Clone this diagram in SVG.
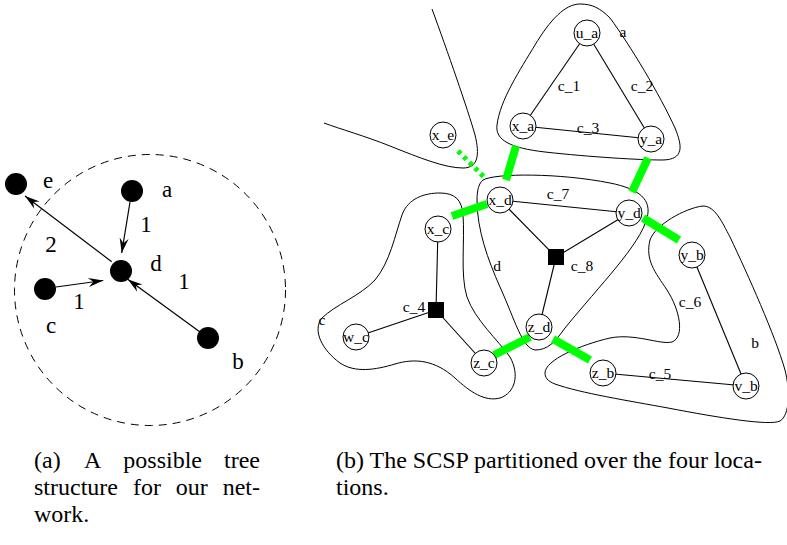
<svg xmlns="http://www.w3.org/2000/svg" width="787" height="545" viewBox="0 0 787 545">
<style>
.t{font-family:"Liberation Serif","Times New Roman",serif;fill:#000}
.big{font-size:23px}
.sm{font-size:15.5px;text-anchor:middle}
.cap{font-size:24px}
.dot{fill:#000}
.arr{stroke:#000;stroke-width:1.2;fill:none;marker-end:url(#ah)}
.reg{fill:none;stroke:#000;stroke-width:1}
.edge{stroke:#000;stroke-width:1.1;fill:none}
.gr{stroke:#00ff00;stroke-width:8;fill:none}
.grd{stroke:#00ff00;stroke-width:5;fill:none;stroke-dasharray:4 4}
.nd{fill:#fff;stroke:#000;stroke-width:1}
.sq{fill:#000}
</style>
<defs>
<marker id="ah" markerUnits="userSpaceOnUse" markerWidth="18" markerHeight="12" viewBox="-16 -6 18 12" refX="0" refY="0" orient="auto">
<path d="M0,0 L-15,-4.5 L-10,0 L-15,4.5 Z" fill="#000"/>
</marker>
</defs>
<rect width="787" height="545" fill="#fff"/>

<!-- Panel (a) -->
<g id="panel-a">
<circle cx="150" cy="290" r="135.5" fill="none" stroke="#000" stroke-width="1" stroke-dasharray="8 6"/>
<g id="a-connectors">
<line class="arr" x1="130" y1="202" x2="121.7" y2="253"/>
<line class="arr" x1="56" y1="287" x2="103.3" y2="280.5"/>
<line class="arr" x1="200" y1="332" x2="127.7" y2="279.3"/>
<line class="arr" x1="111.7" y1="261.7" x2="25" y2="196"/>
</g>
<g id="na-e"><circle class="dot" cx="16" cy="184" r="11"/><text class="t big" x="48" y="188" text-anchor="middle">e</text></g>
<g id="na-a"><circle class="dot" cx="132" cy="191" r="11"/><text class="t big" x="167" y="197" text-anchor="middle">a</text></g>
<g id="na-d"><circle class="dot" cx="121" cy="271" r="11"/><text class="t big" x="156" y="271" text-anchor="middle">d</text></g>
<g id="na-c"><circle class="dot" cx="45" cy="289" r="11"/><text class="t big" x="51" y="333" text-anchor="middle">c</text></g>
<g id="na-b"><circle class="dot" cx="208" cy="338" r="11"/><text class="t big" x="238" y="369" text-anchor="middle">b</text></g>
<g id="a-labels">
<text class="t big" x="146" y="232" text-anchor="middle">1</text>
<text class="t big" x="51" y="252" text-anchor="middle">2</text>
<text class="t big" x="184" y="289" text-anchor="middle">1</text>
<text class="t big" x="79" y="309" text-anchor="middle">1</text>
</g>
</g>

<!-- Panel (b) -->
<g id="regions">
<path id="reg-e" class="reg" d="M432,9 C447,50 468,110 475,135 C480,155 478,168 463,168 C445,168 420,158 390,146 C365,136 340,129 324,123"/>
<path id="reg-a" class="reg" d="M580,4 C565,4 550,20 535,45 C520,70 500,100 497,125 C495,140 510,148 545,152 C590,157 640,160 662,160 C685,160 682,145 675,128 C660,95 630,45 610,18 C600,8 592,4 580,4 Z"/>
<path id="reg-d" class="reg" d="M483,180 C495,173 560,173 610,183 C640,189 652,200 647,218 C640,245 600,285 565,328 C555,342 548,350 535,350 C522,348 515,320 500,287 C488,260 477,230 477,200 C477,190 479,183 483,180 Z"/>
<path id="reg-c" class="reg" d="M440,193 C425,193 408,198 402,215 C395,235 390,262 375,280 C360,296 335,305 322,318 C312,330 322,350 340,363 C355,373 375,370 395,364 C415,358 435,360 455,378 C470,392 485,402 500,398 C515,393 520,375 510,357 C498,340 475,320 467,297 C460,275 465,240 463,215 C462,200 455,193 440,193 Z"/>
<path id="reg-b" class="reg" d="M545,373 C545,360 580,345 610,338 C635,333 660,345 672,342 C685,337 680,310 667,290 C655,272 645,260 650,240 C655,225 685,208 703,206 C715,206 722,222 730,237 C748,275 775,335 785,370 C790,390 790,415 780,421 C770,426 720,418 668,408 C630,401 580,393 555,384 C547,381 545,377 545,373 Z"/>
<text class="t sm" x="623" y="37">a</text>
<text class="t sm" x="755" y="348">b</text>
<text class="t sm" x="322" y="325">c</text>
<text class="t sm" x="497" y="271">d</text>
</g>

<g id="connectors">
<line class="edge" x1="587" y1="33" x2="523" y2="126"/>
<line class="edge" x1="587" y1="33" x2="651" y2="139"/>
<line class="edge" x1="523" y1="126" x2="651" y2="139"/>
<line class="edge" x1="500" y1="200" x2="629" y2="213"/>
<line class="edge" x1="500" y1="200" x2="556" y2="257"/>
<line class="edge" x1="629" y1="213" x2="556" y2="257"/>
<line class="edge" x1="556" y1="257" x2="539" y2="327"/>
<line class="edge" x1="438" y1="229" x2="436" y2="310"/>
<line class="edge" x1="356" y1="337" x2="436" y2="310"/>
<line class="edge" x1="436" y1="310" x2="484" y2="363"/>
<line class="edge" x1="603" y1="373" x2="746" y2="386"/>
<line class="edge" x1="692" y1="255" x2="746" y2="386"/>
<line class="gr" x1="516" y1="146" x2="506" y2="180"/>
<line class="gr" x1="648" y1="158" x2="632" y2="192"/>
<line class="gr" x1="487" y1="204" x2="452" y2="216"/>
<line class="gr" x1="643" y1="218" x2="679" y2="240"/>
<line class="gr" x1="530" y1="337" x2="494" y2="355"/>
<line class="gr" x1="553" y1="339" x2="590" y2="360"/>
<line class="grd" x1="458" y1="151" x2="486" y2="179"/>
<text class="t sm" x="569" y="91">c_1</text>
<text class="t sm" x="642" y="91">c_2</text>
<text class="t sm" x="588" y="133">c_3</text>
<text class="t sm" x="558" y="199">c_7</text>
<text class="t sm" x="582" y="271">c_8</text>
<text class="t sm" x="690" y="307">c_6</text>
<text class="t sm" x="660" y="379">c_5</text>
<text class="t sm" x="414" y="312">c_4</text>
</g>

<g id="n-u_a"><circle class="nd" cx="587" cy="33" r="13"/><text class="t sm" x="587" y="37.5">u_a</text></g>
<g id="n-x_a"><circle class="nd" cx="523" cy="126" r="13"/><text class="t sm" x="523" y="130.5">x_a</text></g>
<g id="n-y_a"><circle class="nd" cx="651" cy="139" r="13"/><text class="t sm" x="651" y="143.5">y_a</text></g>
<g id="n-x_e"><circle class="nd" cx="443" cy="135" r="13"/><text class="t sm" x="443" y="139.5">x_e</text></g>
<g id="n-x_d"><circle class="nd" cx="500" cy="200" r="13"/><text class="t sm" x="500" y="204.5">x_d</text></g>
<g id="n-y_d"><circle class="nd" cx="629" cy="213" r="13"/><text class="t sm" x="629" y="217.5">y_d</text></g>
<g id="n-x_c"><circle class="nd" cx="438" cy="229" r="13"/><text class="t sm" x="438" y="233.5">x_c</text></g>
<g id="n-y_b"><circle class="nd" cx="692" cy="255" r="13"/><text class="t sm" x="692" y="259.5">y_b</text></g>
<g id="n-w_c"><circle class="nd" cx="356" cy="337" r="13"/><text class="t sm" x="356" y="341.5">w_c</text></g>
<g id="n-z_d"><circle class="nd" cx="539" cy="327" r="13"/><text class="t sm" x="539" y="331.5">z_d</text></g>
<g id="n-z_c"><circle class="nd" cx="484" cy="363" r="13"/><text class="t sm" x="484" y="367.5">z_c</text></g>
<g id="n-z_b"><circle class="nd" cx="603" cy="373" r="13"/><text class="t sm" x="603" y="377.5">z_b</text></g>
<g id="n-v_b"><circle class="nd" cx="746" cy="386" r="13"/><text class="t sm" x="746" y="390.5">v_b</text></g>
<g id="n-c_8"><rect class="sq" x="548" y="249" width="16" height="16"/></g>
<g id="n-c_4"><rect class="sq" x="428" y="302" width="16" height="16"/></g>

<g id="captions">
<text class="t cap" y="468"><tspan x="34">(a)</tspan><tspan x="84">A</tspan><tspan x="123.3">possible</tspan><tspan x="224">tree</tspan></text>
<text class="t cap" y="495"><tspan x="34">structure</tspan><tspan x="132.9">for</tspan><tspan x="175.8">our</tspan><tspan x="222.7">net-</tspan></text>
<text class="t cap" x="34" y="522">work.</text>
<text class="t cap" x="336" y="468">(b) The SCSP partitioned over the four loca-</text>
<text class="t cap" x="336" y="495">tions.</text>
</g>
</svg>
